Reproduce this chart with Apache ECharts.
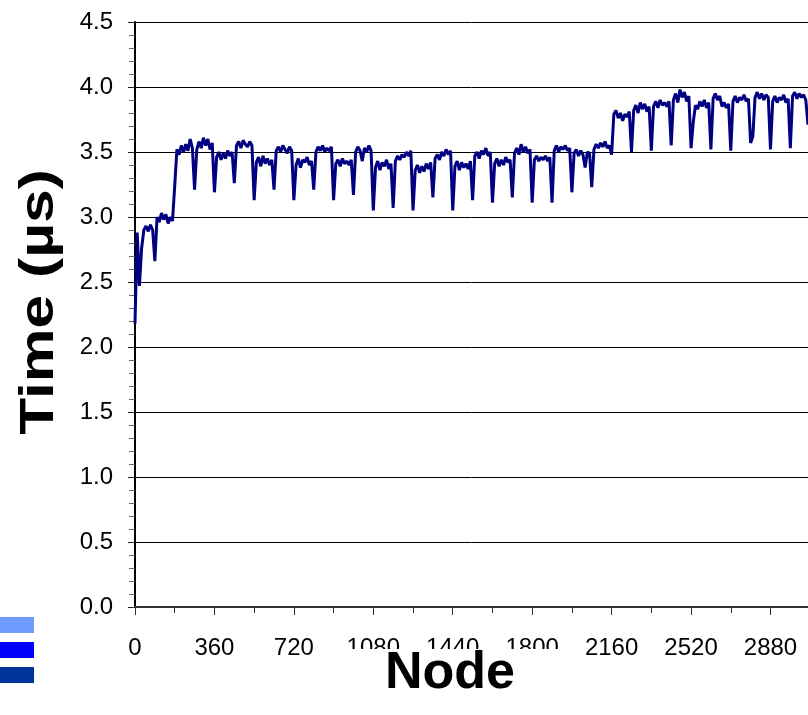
<!DOCTYPE html>
<html>
<head>
<meta charset="utf-8">
<script src="https://cdn.jsdelivr.net/npm/echarts@6/dist/echarts.min.js"></script>
<style>
  html, body { margin: 0; padding: 0; background: #fff; }
  #chart { width: 808px; height: 715px; }
</style>
</head>
<body>
<div id="chart"></div>
<script>
// one sample every 10 nodes, one row per group of 90 nodes (first value of each row is the dip)
const nodeStep = 10
const groupSize = 90
const timeRows = [
  [2.18, 2.88, 2.47, 2.76, 2.90, 2.93, 2.89, 2.94, 2.90],
  [2.66, 3.00, 2.96, 3.03, 2.98, 3.02, 2.95, 3.00, 2.97],
  [3.24, 3.52, 3.48, 3.55, 3.50, 3.56, 3.51, 3.60, 3.53],
  [3.21, 3.52, 3.58, 3.53, 3.61, 3.55, 3.60, 3.52, 3.57],
  [3.19, 3.46, 3.50, 3.44, 3.49, 3.45, 3.51, 3.47, 3.50],
  [3.26, 3.55, 3.58, 3.53, 3.59, 3.56, 3.54, 3.58, 3.55],
  [3.13, 3.42, 3.46, 3.39, 3.47, 3.41, 3.45, 3.40, 3.44],
  [3.21, 3.51, 3.54, 3.50, 3.55, 3.52, 3.49, 3.54, 3.51],
  [3.13, 3.40, 3.45, 3.38, 3.44, 3.42, 3.46, 3.40, 3.43],
  [3.21, 3.50, 3.54, 3.51, 3.55, 3.50, 3.53, 3.51, 3.54],
  [3.13, 3.41, 3.44, 3.39, 3.45, 3.41, 3.43, 3.40, 3.44],
  [3.17, 3.50, 3.54, 3.51, 3.43, 3.53, 3.50, 3.55, 3.51],
  [3.05, 3.38, 3.43, 3.36, 3.42, 3.39, 3.44, 3.37, 3.41],
  [3.07, 3.43, 3.47, 3.44, 3.48, 3.46, 3.50, 3.47, 3.51],
  [3.05, 3.36, 3.40, 3.34, 3.39, 3.35, 3.41, 3.37, 3.42],
  [3.15, 3.45, 3.48, 3.44, 3.50, 3.47, 3.52, 3.48, 3.51],
  [3.05, 3.39, 3.43, 3.36, 3.42, 3.38, 3.41, 3.37, 3.43],
  [3.13, 3.47, 3.50, 3.45, 3.51, 3.48, 3.53, 3.47, 3.50],
  [3.11, 3.41, 3.45, 3.39, 3.44, 3.40, 3.46, 3.42, 3.44],
  [3.15, 3.49, 3.53, 3.48, 3.56, 3.50, 3.54, 3.49, 3.52],
  [3.11, 3.44, 3.47, 3.43, 3.46, 3.44, 3.47, 3.43, 3.46],
  [3.11, 3.51, 3.55, 3.50, 3.54, 3.52, 3.55, 3.51, 3.53],
  [3.19, 3.49, 3.52, 3.47, 3.51, 3.48, 3.38, 3.50, 3.49],
  [3.23, 3.52, 3.56, 3.53, 3.57, 3.54, 3.58, 3.53, 3.55],
  [3.48, 3.79, 3.82, 3.76, 3.80, 3.74, 3.79, 3.77, 3.81],
  [3.50, 3.82, 3.86, 3.80, 3.88, 3.83, 3.87, 3.81, 3.85],
  [3.51, 3.85, 3.89, 3.84, 3.90, 3.86, 3.88, 3.85, 3.89],
  [3.55, 3.90, 3.95, 3.88, 3.98, 3.92, 3.96, 3.89, 3.93],
  [3.53, 3.73, 3.86, 3.83, 3.89, 3.85, 3.90, 3.84, 3.88],
  [3.52, 3.91, 3.95, 3.90, 3.93, 3.85, 3.88, 3.84, 3.87],
  [3.51, 3.89, 3.93, 3.88, 3.92, 3.90, 3.94, 3.89, 3.91],
  [3.57, 3.62, 3.92, 3.96, 3.91, 3.95, 3.90, 3.94, 3.92],
  [3.52, 3.89, 3.93, 3.88, 3.92, 3.90, 3.94, 3.88, 3.91],
  [3.53, 3.93, 3.96, 3.91, 3.95, 3.92, 3.94, 3.90, 3.71]
]

// axis settings
const xMax = 3050
const xInterval = 360
const yMax = 4.5
const yInterval = 0.5
const xTitle = 'Node'
const yTitle = 'Time (µs)'

// colour swatches at the bottom left
const swatchColors = ['#6f9cff', '#0000ff', '#003399']

const fontFamily = "Arial, 'Liberation Sans', sans-serif"

//拼数据
const lineData = []
timeRows.forEach((row, g) => {
    row.forEach((v, j) => {
        lineData.push([g * groupSize + j * nodeStep, v])
    })
})

const myChart = echarts.init(document.getElementById('chart'))

const graphics = swatchColors.map((c, i) => ({
    type: 'rect',
    left: 0,
    top: 617 + i * 25,
    shape: { width: 34, height: 16 },
    style: { fill: c }
}))

//x轴标题，白底盖住部分刻度文字
graphics.push({
    type: 'rect',
    z: 100,
    shape: { x: 332, y: 649, width: 246, height: 66 },
    style: { fill: '#fff' }
})
graphics.push({
    type: 'text',
    z: 101,
    x: 450,
    y: 674,
    style: {
        text: xTitle,
        font: 'bold 52px ' + fontFamily,
        fill: '#000',
        align: 'center',
        verticalAlign: 'middle'
    }
})
//y轴标题
graphics.push({
    type: 'text',
    z: 101,
    x: 40,
    y: 302,
    rotation: Math.PI / 2,
    scaleX: 1.26,
    style: {
        text: yTitle,
        font: 'bold 48px ' + fontFamily,
        fill: '#000',
        align: 'center',
        verticalAlign: 'middle'
    }
})

const option = {
    animation: false,
    backgroundColor: '#fff',
    grid: { left: 135, right: 0, top: 22, bottom: 108, containLabel: false, outerBoundsMode: 'none' },
    graphic: graphics,
    xAxis: {
        type: 'value',
        min: 0,
        max: xMax,
        interval: xInterval,
        axisLine: { show: true, lineStyle: { color: '#333', width: 2 } },
        axisTick: { show: true, length: 8, lineStyle: { color: '#333', width: 1 } },
        minorTick: { show: true, splitNumber: 2, length: 6, lineStyle: { color: '#333', width: 1 } },
        axisLabel: {
            showMaxLabel: false,
            margin: 29,
            fontFamily: fontFamily,
            fontSize: 24,
            color: '#000',
            formatter: v => String(v)
        },
        splitLine: { show: false }
    },
    yAxis: {
        type: 'value',
        min: 0,
        max: yMax,
        interval: yInterval,
        axisLine: { show: true, lineStyle: { color: '#000', width: 2 } },
        axisTick: { show: true, length: 7, lineStyle: { color: '#222', width: 1 } },
        minorTick: { show: true, splitNumber: 5, length: 6, lineStyle: { color: '#666', width: 1 } },
        axisLabel: {
            margin: 22,
            fontFamily: fontFamily,
            fontSize: 24,
            color: '#000',
            formatter: v => v.toFixed(1)
        },
        splitLine: { show: true, lineStyle: { color: '#000', width: 1 } }
    },
    series: [{
        type: 'line',
        data: lineData,
        showSymbol: false,
        lineStyle: { color: '#000080', width: 3 },
        clip: true
    }]
}

myChart.setOption(option)
</script>
</body>
</html>
